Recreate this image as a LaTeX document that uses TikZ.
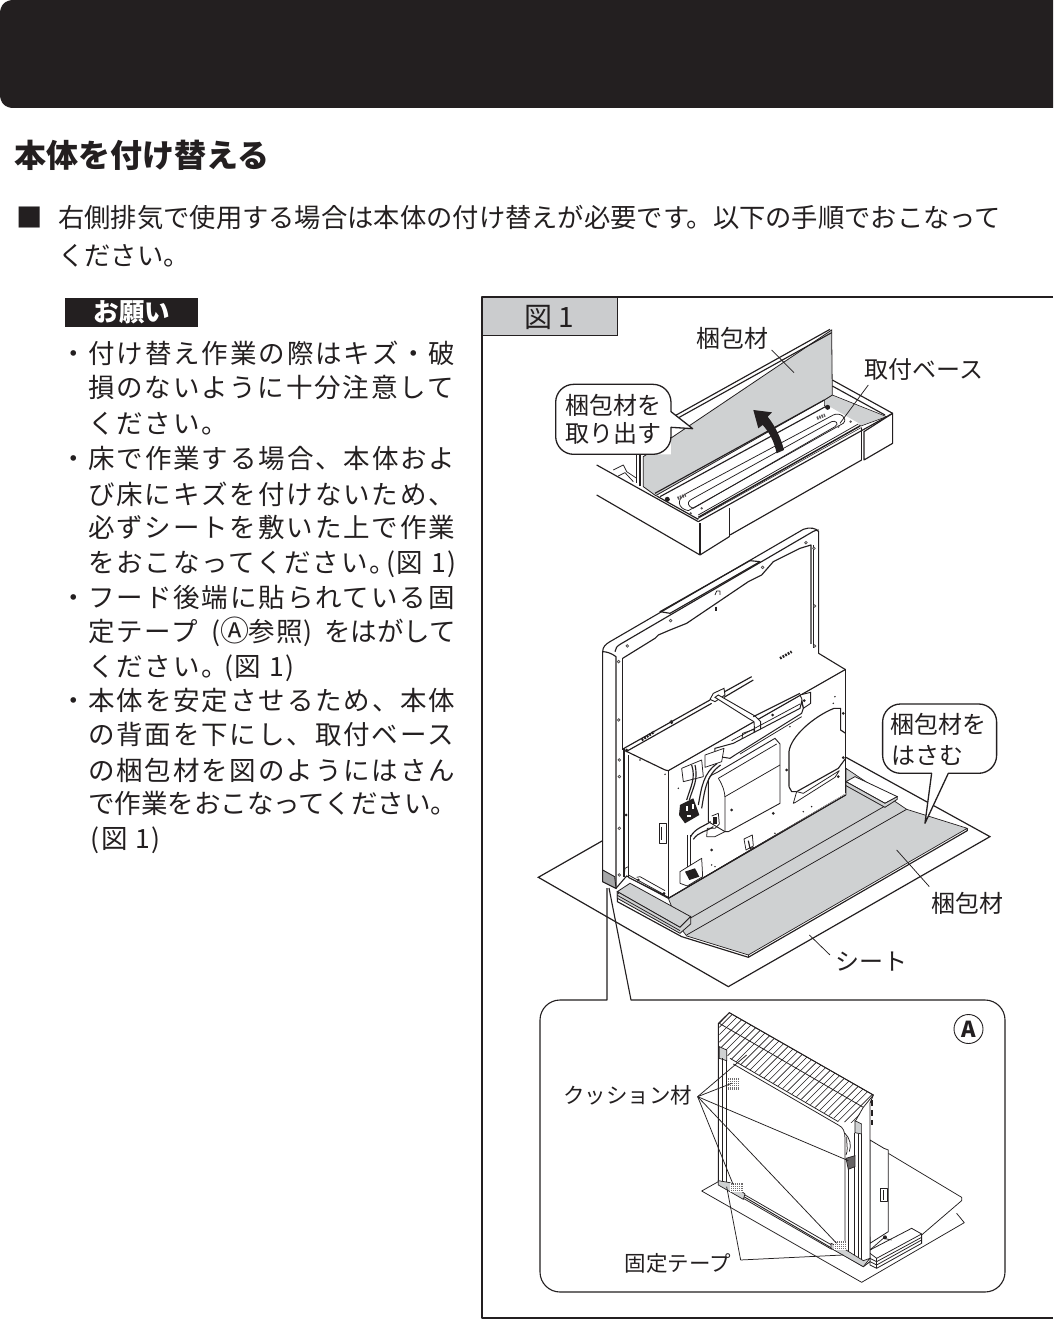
\documentclass[tikz,border=0pt]{standalone}
\usepackage{fontspec}
\setmainfont{Noto Sans CJK JP}
\newfontfamily\bodyf[LetterSpace=7]{Noto Sans CJK JP}
\definecolor{pk}{HTML}{CFD1D2}
\definecolor{ink}{HTML}{231F20}
\definecolor{tabg}{HTML}{CBCCCE}
\tikzset{
  ln/.style={draw=ink,line width=1.15pt,line join=round},
  thin ln/.style={draw=ink,line width=0.75pt,line join=round},
  body/.style={anchor=base west,inner sep=0pt,text=ink,font=\fontsize{26.5}{30}\bodyf},
  lead/.style={anchor=west,inner sep=0pt,text=ink,font=\fontsize{26.3}{30}\selectfont},
  lab/.style={inner sep=0pt,text=ink,font=\fontsize{24}{26}\selectfont},
  slab/.style={inner sep=0pt,text=ink,font=\fontsize{21.5}{24}\selectfont},
  padfill/.style={fill=pk,draw=ink,line width=.7pt},
}
\newcommand{\screwat}[1]{\foreach \p in {#1}{\fill[ink!80] \p circle (5.5); \fill[white] \p circle (1.6);}}
\begin{document}
\begin{tikzpicture}[x=1pt,y=-1pt]
\useasboundingbox (0,0) rectangle (1053,1335);
\fill[white] (0,0) rectangle (1053,1335);
% header
\fill[ink] (1053,0) -- (14,0) .. controls (5,0) and (0,5) .. (0,14) -- (0,94) .. controls (0,103) and (5,108) .. (14,108) -- (1053,108) -- cycle;
% text
\node[anchor=west,inner sep=0pt,text=ink,font=\fontsize{32}{34}\selectfont\bfseries] (head) at (14,155) {本体を付け替える};
\node[lead] (sq) at (16,218) {■};
\node[lead] (l1) at (58,218) {右側排気で使用する場合は本体の付け替えが必要です。以下の手順でおこなって};
\node[lead] (l2) at (58,256) {ください。};
\fill[ink] (65,298) rectangle (198,327);
\node[inner sep=0pt,text=white,font=\fontsize{25.5}{28}\selectfont\bfseries] (onegai) at (132,312) {お願い};
\node[body] (a1) at (60,363) {・付け替え作業の際はキズ・破};
\node[body] (a2) at (88,397) {損のないように十分注意して};
\node[body] (a3) at (88,433) {ください。};
\node[body] (b1) at (60,468) {・床で作業する場合、本体およ};
\node[body] (b2) at (88,504) {び床にキズを付けないため、};
\node[body] (b3) at (88,537) {必ずシートを敷いた上で作業};
\node[body] (b4) at (88,572) {をおこなってください。\hspace{-10pt}(図 1)};
\node[body] (c1) at (60,607) {・フード後端に貼られている固};
\node[body] (c2) at (88,641) {定テープ\hspace{13pt}({\fontsize{29}{30}\selectfont Ⓐ}\hspace{-1pt}参照\hspace{1pt})};
\node[anchor=base east,inner sep=0pt,text=ink,font=\fontsize{26.5}{30}\selectfont] (c2b) at (456,641) {をはがして};
\node[body] (c3) at (88,676) {ください。\hspace{-4pt}(図 1)};
\node[body] (d1) at (60,710) {・本体を安定させるため、本体};
\node[body] (d2) at (88,744) {の背面を下にし、取付ベース};
\node[body] (d3) at (88,780) {の梱包材を図のようにはさん};
\node[anchor=base west,inner sep=0pt,text=ink,font=\fontsize{26.5}{30}\selectfont] (d4) at (88,813) {で作業をおこなってください。};
\node[body] (d5) at (90,848) {(図 1)};
% frame
\draw[ln,line width=1.1pt] (1053,297) -- (482,297) -- (482,1318) -- (1053,1318);
\filldraw[fill=tabg,draw=ink,line width=1pt] (482,297) rectangle (617,335);
\node[inner sep=0pt,text=ink,font=\fontsize{28}{30}\selectfont] (zu) at (549,317) {図 1};
% ---------- open box (origin 545,320; 3x)
\begin{scope}[shift={(545,320)},scale=0.3333]
 \draw[ln] (155,435) -- (460,605);
 \draw[thin ln] (205,450) -- (235,435) -- (245,455) -- (275,475);
 \draw[thin ln] (220,468) -- (240,458) -- (265,485);
 \draw[ln] (155,525) -- (465,705) -- (553,650);
 \draw[ln] (465,610) -- (465,705);
 \draw[ln] (553,565) -- (553,650);
 \draw[ln] (555,645) -- (950,420);
 \draw[ln] (950,325) -- (950,420);
 \draw[ln,fill=white] (957,335) -- (1043,280) -- (1043,370) -- (957,420) -- cycle;
 \draw[ln] (862,180) -- (1043,280);
 \draw[ln] (862,198) -- (1020,285);
 \filldraw[fill=pk,draw=ink,line width=.6pt] (838,240) -- (862,225) -- (1025,290) -- (948,318) -- (838,256) -- cycle;
 \draw[ln] (460,605) -- (1043,280);
 % tray
 \fill[white] (340,530) -- (845,255) -- (945,312) -- (460,592) -- cycle;
 \draw[ln] (335,528) -- (460,598);
 \draw[ink,line width=1.5pt] (460,592) -- (945,318);
 \draw[thin ln] (460,585) -- (940,312);
 \draw[ink,line width=.5pt] (455,598) -- (950,322);
 \draw[ln] (345,530) -- (845,258);
 \draw[thin ln] (430,572) .. controls (395,565) and (395,535) .. (425,520) -- (865,285) .. controls (885,275) and (910,295) .. (895,310) -- cycle;
 \draw[thin ln] (435,560) .. controls (425,550) and (430,542) .. (445,535) -- (860,305) .. controls (870,300) and (885,310) .. (870,320) -- (445,565) -- cycle;
 \fill[ink] (367,538) circle (7.5); \fill[ink] (848,262) circle (7.5);
 \foreach \p in {(437,580),(470,565),(880,320),(917,305)}{\fill[ink!75] \p circle (4);}
 \foreach \q in {(410,530),(828,290)}{\draw[ink!75,line width=3.2pt,dash pattern=on 1.5pt off 1pt] \q ++(-12,5) -- ++(24,-10);}
 % hinge + panel
 \draw[ln] (275,400) -- (275,490); \draw[ln] (285,400) -- (285,497);
 \filldraw[fill=pk,draw=ink,line width=.8pt] (295,410) -- (860,30) -- (862,225) -- (838,240) -- (332,527) -- (295,500) -- cycle;
 \draw[ln] (385,290) -- (855,28);
 \draw[ln] (392,298) -- (860,38);
 \draw[ln] (330,520) -- (838,240);
 % up arrow
 \fill[ink] (625,270) -- (681,277) -- (668,290) .. controls (692,320) and (708,355) .. (717,390) -- (695,400) .. controls (688,365) and (672,335) .. (653,315) -- (640,325) -- cycle;
 % callout
 \fill[white,rounded corners=18pt] (378,403) -- (32,403) -- (32,193) -- (378,193) [sharp corners] -- (378,275) -- (443,326) -- (378,322) -- cycle;
 \draw[ln,line width=1.3pt,rounded corners=18pt] (378,275) -- (378,193) -- (32,193) -- (32,403) -- (378,403) -- (378,322);
 \draw[ln,line width=1.3pt,line cap=round] (378,275) -- (443,326) -- (378,322);
 \draw[thin ln] (680,90) -- (747,158);
 \draw[thin ln] (970,195) -- (885,310);
\end{scope}
\node[lab] (t1) at (732,338) {梱包材};
\node[lab] (t2) at (924,369) {取付ベース};
\node[lab] (t3) at (613,405) {梱包材を};
\node[lab] (t4) at (613,433) {取り出す};
% ---------- main unit (origin 530,520; 3x)
\begin{scope}[shift={(530,520)},scale=0.3333]
 % sheet
 \fill[white] (25,1072) -- (218,962) -- (948,712) -- (1380,950) -- (595,1400) -- cycle;
 \draw[ink,line width=1.2pt,line join=miter] (218,962) -- (25,1072) -- (595,1400) -- (1380,950) -- (948,712);
 % packing
 \filldraw[fill=pk,draw=ink,line width=.7pt] (415,1135) -- (948,825) -- (948,745) -- (1130,868) -- (1312,925) -- (655,1305) -- (470,1248) -- (450,1222) -- cycle;
 \draw[ln] (1312,925) -- (1312,932) -- (655,1312) -- (455,1250) -- (262,1145) -- (262,1115);
 \draw[ln] (655,1305) -- (655,1312);
 \draw[thin ln] (480,1195) -- (1065,858);
 \draw[thin ln] (470,1245) -- (1130,868);
 % spacer bars
 \filldraw[fill=white,draw=ink,line width=.8pt] (948,785) -- (1065,850) -- (1102,830) -- (975,770) -- cycle;
 \filldraw[fill=pk,draw=ink,line width=.8pt] (948,797) -- (1065,862) -- (1102,838) -- (1102,830) -- (1065,850) -- (948,785) -- cycle;
 \filldraw[fill=pk,draw=ink,line width=.8pt] (262,1115) -- (300,1090) -- (482,1190) -- (450,1222) -- cycle;
 \filldraw[fill=pk,draw=ink,line width=.8pt] (262,1115) -- (450,1222) -- (482,1190) -- (482,1212) -- (450,1240) -- (262,1135) -- cycle;
 \draw[thin ln] (262,1126) -- (450,1232);
 % frame body
 \filldraw[fill=white,draw=ink,line width=1.1pt] (218,395) .. controls (218,380) and (228,372) .. (240,365) -- (820,28) .. controls (840,20) and (860,25) .. (866,35) -- (866,400) -- (945,448) -- (945,820) -- (415,1135) -- (290,1068) -- (258,1105) -- (218,1085) -- cycle;
 % frame details
 \draw[ln] (218,395) .. controls (230,395) and (245,400) .. (258,410) -- (258,1105);
 \draw[ln] (255,395) .. controls (255,385) and (262,378) .. (272,372) -- (840,40) .. controls (852,32) and (860,30) .. (866,30);
 \draw[ln] (278,415) -- (375,355) -- (385,345) -- (420,330) -- (470,310) -- (655,185) -- (695,165) -- (730,125) -- (810,85) -- (843,75) -- (843,372);
 \draw[ln] (278,415) -- (278,690);
 \draw[ln] (390,275) -- (420,280) -- (690,125) -- (660,122) -- cycle;
 \draw[thin ln] (555,225) -- (560,213) -- (570,213) -- (570,225);
 \draw[ink,line width=2pt] (558,260) -- (558,274);
 \draw[thin ln] (850,75) -- (850,385);
 \screwat{(266,425),(266,600),(268,720),(268,770),(268,925),(268,1065),(292,378),(422,302),(698,142),(828,68),(852,85),(854,258),(854,378),(424,605)}
 % tape
 \filldraw[fill=pk!80!black,draw=ink,line width=.9pt] (218,1050) -- (254,1070) -- (258,1105) -- (218,1085) -- cycle;
 % callout 2
 \fill[white,rounded corners=18pt] (1205,760) [sharp corners] -- (1185,910) -- (1255,760) [rounded corners=18pt] -- (1400,760) -- (1400,552) -- (1058,552) -- (1058,760) -- cycle;
 \draw[ln,line width=1.3pt,rounded corners=18pt] (1205,760) -- (1058,760) -- (1058,552) -- (1400,552) -- (1400,760) -- (1255,760);
 \draw[ln,line width=1.3pt,line cap=round] (1205,760) -- (1185,910) -- (1255,760);
 \draw[thin ln] (1100,990) -- (1198,1100);
 \draw[thin ln] (838,1245) -- (900,1305);
\end{scope}
% ---------- box interior (origin 600,680; 3x)
\begin{scope}[shift={(600,680)},scale=0.3333]
 \draw[ln] (72,205) -- (330,60); \draw[ln] (78,215) -- (335,70);
 \draw[ln] (365,40) -- (455,-10); \draw[ln] (372,52) -- (460,0);
 \fill[white] (85,225) -- (185,265) -- (205,272) -- (737,-32) -- (737,340) -- (205,652) -- (85,592) -- cycle;
 \draw[ln] (75,212) -- (185,265) .. controls (195,270) and (200,272) .. (205,272) -- (737,-32);
 \draw[ln] (205,272) -- (205,655);
 \draw[ln] (72,205) -- (72,590); \draw[ln] (85,225) -- (85,592);
 \draw[ln] (85,592) -- (205,652);
 \draw[ln] (737,-32) -- (737,340); \draw[ln] (205,655) -- (737,345);
 \draw[thin ln] (85,585) -- (195,645); \draw[thin ln] (110,592) -- (120,590) -- (195,632);
 \draw[thin ln] (72,590) -- (75,565) -- (85,560);
 \draw[ink,line width=2.6pt,dash pattern=on 1.8pt off 1.2pt] (125,180) -- (163,155);
 \draw[ink,line width=2.6pt,dash pattern=on 1.8pt off 1.2pt] (540,-65) -- (575,-85);
 \draw[thin ln] (178,430) rectangle (198,490); \draw[thin ln] (185,440) -- (185,480);
 % strap
 \filldraw[fill=white,draw=ink,line width=.9pt] (330,58) -- (340,40) -- (372,25) -- (375,45) -- (345,65) -- cycle;
 \filldraw[fill=white,draw=ink,line width=.9pt] (345,52) -- (355,45) -- (465,108) -- (482,125) -- (482,155) -- (465,168) -- (462,125) -- (445,115) -- cycle;
 \draw[ln] (460,110) -- (600,40);
 \filldraw[fill=white,draw=ink,line width=.9pt] (600,45) -- (632,37) -- (632,70) -- (610,85) -- (605,55) -- cycle;
 \filldraw[fill=white,draw=ink,line width=.8pt] (428,160) -- (462,148) -- (462,172) -- (425,190) -- cycle;
 % transformer
 \filldraw[fill=white,draw=ink,line width=.9pt] (325,300) .. controls (330,285) and (340,282) .. (350,278) -- (525,175) -- (540,192) -- (540,370) -- (385,455) -- (375,455) -- (325,425) -- cycle;
 \draw[thin ln] (375,350) -- (540,255);
 \draw[thin ln] (355,295) .. controls (368,315) and (375,335) .. (375,355) -- (375,455);
 \draw[thin ln] (355,295) -- (530,192);
 % long band
 \filldraw[fill=white,draw=ink,line width=1pt] (345,205) -- (400,190) -- (600,85) -- (605,65) -- (610,85) -- (605,100) -- (405,225) -- (390,235) -- (345,228) -- cycle;
 \draw[thin ln] (395,182) -- (600,72);
 \draw[thin ln] (420,222) -- (605,110);
 % plates
 \draw[thin ln,fill=white] (245,265) -- (305,240) -- (310,290) -- (250,305) -- cycle;
 \draw[thin ln,fill=white] (315,225) -- (372,205) -- (365,245) -- (315,262) -- cycle;
 % cover plate
 \draw[ln] (567,320) -- (567,215) .. controls (572,170) and (640,110) .. (702,85) -- (722,85) -- (722,150) -- (737,160);
 \draw[ln] (567,320) -- (575,335) -- (590,335) -- (715,265) -- (737,235);
 \draw[thin ln,fill=white] (580,370) -- (590,335) -- (610,340) -- (718,272) -- (705,292) -- (585,368) -- cycle;
 % wires
 \draw[ln] (285,255) .. controls (295,300) and (280,320) .. (268,360);
 \draw[ln] (275,255) .. controls (288,295) and (272,320) .. (260,360);
 \draw[ln] (352,250) .. controls (310,280) and (305,320) .. (295,375);
 \draw[ln] (362,255) .. controls (320,285) and (315,325) .. (305,385);
 \fill[ink] (240,375) -- (280,355) -- (298,405) -- (255,430) -- (237,405) -- cycle;
 \fill[white] (258,378) rectangle (264,392); \fill[white] (275,372) rectangle (281,388); \fill[white] (260,405) rectangle (272,410);
 \draw[ln] (262,465) -- (262,560); \draw[ln] (272,465) -- (272,560);
 \draw[ln] (272,470) .. controls (285,445) and (310,440) .. (332,425);
 \draw[ln] (280,478) .. controls (295,455) and (320,455) .. (340,440);
 \draw[thin ln] (335,408) -- (355,400) -- (358,432) -- (345,445) -- (322,445) -- (320,470) -- (345,470) -- (375,455);
 \fill[ink] (338,412) rectangle (352,432);
 \draw[thin ln,fill=white] (240,575) -- (305,535) -- (308,590) -- (262,618) -- (240,610) -- cycle;
 \fill[ink] (255,575) -- (285,565) -- (298,590) -- (268,600) -- cycle;
 \draw[thin ln,fill=white] (432,477) -- (457,465) -- (460,498) -- (438,510) -- cycle;
 \draw[ln] (445,482) -- (450,505) -- (462,503);
 % dots
 \foreach \p in {(395,390),(520,400),(335,510),(613,62),(730,100),(560,270),(518,105),(715,290),(730,233),(80,210),(215,128),(78,405),(192,640),(115,600)}{\fill[ink] \p circle (4.5);}
 \foreach \p in {(120,240),(195,283),(235,325),(705,50),(700,70),(570,140),(635,380),(610,395),(525,460),(345,560),(335,555),(55,640)}{\fill[ink] \p circle (2.5);}
\end{scope}
\node[lab] (t5) at (938,724) {梱包材を};
\node[lab,anchor=west] (t6) at (891,755) {はさむ};
\node[lab] (t7) at (967,903) {梱包材};
\node[lab] (t8) at (871,962) {シート};
% leaders + inset
\draw[ln,line width=1.1pt] (607,888) -- (607,1000) -- (560,1000) .. controls (549,1000) and (540,1009) .. (540,1020) -- (540,1272) .. controls (540,1283) and (549,1292) .. (560,1292) -- (985,1292) .. controls (996,1292) and (1005,1283) .. (1005,1272) -- (1005,1020) .. controls (1005,1009) and (996,1000) .. (985,1000) -- (631,1000) -- (609,888);
% ---------- inset (origin 530,990; 3x)
\begin{scope}[shift={(530,990)},scale=0.3333]
 \draw[thin ln] (1075,490) -- (1295,622) -- (1295,632) -- (1175,735);
 \draw[thin ln] (1280,670) -- (1303,698) -- (995,877) -- (515,603) -- (565,575);
 \filldraw[fill=white,draw=ink,line width=.8pt] (1020,450) -- (1062,475) -- (1075,480) -- (1075,725) -- (1020,760) -- cycle;
 \draw[thin ln] (1052,595) rectangle (1072,635);
 \draw[thin ln] (1060,600) -- (1060,630);
 \filldraw[fill=white,draw=ink,line width=.8pt] (1020,780) -- (1145,715) -- (1175,732) -- (1175,760) -- (1040,835) -- (1020,825) -- cycle;
 \draw[thin ln] (1020,790) -- (1040,805) -- (1175,732);
 \draw[thin ln] (1040,805) -- (1040,835);
 \draw[thin ln] (1040,815) -- (1175,742); \draw[thin ln] (1040,825) -- (1175,750);
 \draw[thin ln] (1020,740) -- (1020,780) -- (1060,745) -- (1085,750);
 \draw[thin ln] (1020,805) -- (1040,815); \draw[thin ln] (1020,815) -- (1040,825);
 \fill[ink] (1065,742) circle (6);
 % frame white
 \filldraw[fill=white,draw=ink,line width=.9pt] (565,100) -- (565,575) -- (1000,830) -- (1020,815) -- (1020,340) -- (1030,315) -- (598,68) -- cycle;
 \draw[ink,line width=2pt,dash pattern=on 6pt off 4pt] (1026,330) -- (1026,405);
 % hatch
 \begin{scope}
  \clip (568,100) -- (598,68) -- (1030,315) -- (1000,352) -- (975,400) -- (930,395) -- (600,205) -- (568,170) -- cycle;
  \foreach \i in {0,...,38}{\draw[ink,line width=.6pt] (186+\i*22,450) -- ++(400,-400);}
 \end{scope}
 \draw[thin ln] (568,100) -- (598,68) -- (1030,315) -- (1000,352) -- cycle;
 \draw[thin ln] (600,205) -- (925,395);
 \draw[thin ln] (610,222) -- (925,405) .. controls (940,412) and (945,425) .. (945,445) -- (945,770);
 \draw[thin ln] (1000,352) -- (975,395);
 % posts
 \filldraw[padfill] (568,170) -- (590,180) -- (590,212) -- (568,205) -- cycle;
 \filldraw[padfill] (975,392) -- (995,402) -- (995,432) -- (975,428) -- cycle;
 \draw[thin ln] (578,205) -- (578,580); \draw[thin ln] (590,212) -- (590,590);
 \draw[thin ln] (973,428) -- (973,805); \draw[thin ln] (985,432) -- (985,805); \draw[thin ln] (995,432) -- (995,812);
 \draw[thin ln] (955,520) -- (955,785);
 % bottom rail
 \draw[thin ln] (640,612) -- (905,765); \draw[thin ln] (640,625) -- (905,778);
 \filldraw[padfill] (565,572) -- (600,578) -- (645,612) -- (640,628) -- (565,585) -- cycle;
 \filldraw[padfill] (903,760) -- (945,778) -- (1000,812) -- (1020,805) -- (1000,830) -- (903,775) -- cycle;
 \draw[thin ln] (945,430) .. controls (960,445) and (965,465) .. (958,485);
 \draw[thin ln] (950,440) .. controls (950,470) and (955,480) .. (948,495);
 % cushion pads
 \foreach \a/\b/\w/\h in {590/265/36/34,600/578/40/24,912/752/36/26}{
   \fill[ink!65] (\a,\b) rectangle ++(\w,\h);
   \foreach \k in {0,6,...,30}{\draw[white,line width=.3pt] (\a+\k,\b) -- ++(0,\h);}
   \foreach \k in {6,12,...,24}{\draw[white,line width=.3pt] (\a,\b+\k) -- ++(\w,0);}
 }
 \filldraw[fill=ink!70,draw=ink,line width=.7pt] (948,505) -- (975,497) -- (975,530) -- (955,538) -- cycle;
 % leaders
 \coordinate (cu) at (503,320);
 \draw[thin ln] (cu) -- (650,195);
 \draw[thin ln] (cu) -- (605,280);
 \draw[thin ln] (cu) -- (955,512);
 \draw[thin ln] (cu) -- (610,585);
 \draw[thin ln] (cu) -- (920,760);
 \coordinate (ko) at (632,810);
 \draw[thin ln] (ko) -- (590,590);
 \draw[thin ln] (ko) -- (940,795);
\end{scope}
\node[slab] (t9) at (627.5,1095) {クッション材};
\node[slab] (t10) at (678,1263) {固定テープ};
\node[circle,draw=ink,line width=.9pt,inner sep=0pt,minimum size=29pt,text=ink,font=\fontsize{22}{24}\selectfont\bfseries] (circA) at (968.5,1029) {A};
\end{tikzpicture}
\end{document}
